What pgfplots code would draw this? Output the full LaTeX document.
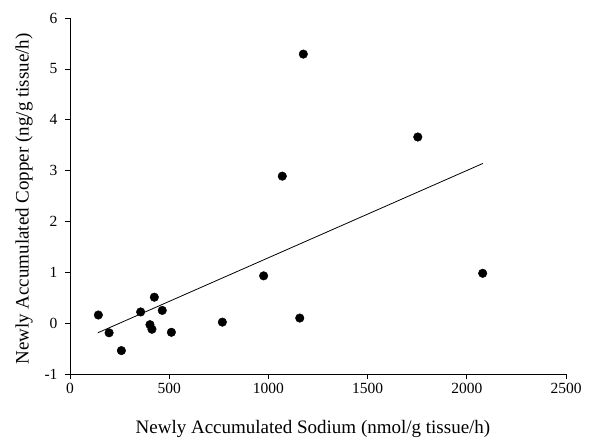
\documentclass[border=0pt]{standalone}
\usepackage{pgfplots}
\pgfplotsset{compat=1.18}
\usepackage{fontspec}
\setmainfont{Liberation Serif}
\begin{document}
\begin{tikzpicture}
\begin{axis}[
  name=ax,
  scale only axis, width=496pt, height=356pt,
  xmin=0, xmax=2500, ymin=-1, ymax=6,
  axis x line*=bottom, axis y line*=left,
  axis line style={line width=0.9pt},
  tick align=outside, major tick length=5pt,
  tick style={black, line width=0.7pt},
  xtick={0,500,1000,1500,2000,2500}, ytick={-1,0,1,2,3,4,5,6},
  ticklabel style={font=\fontsize{15.5}{15.5}\selectfont},
  yticklabel style={xshift=-4pt},
  xticklabel style={yshift=-1pt},
  /pgf/number format/assume math mode=true,
  /pgf/number format/1000 sep={},
  xlabel={Newly Accumulated Sodium (nmol/g tissue/h)},
  ylabel={Newly Accumulated Copper (ng/g tissue/h)},
  label style={font=\fontsize{19}{19}\selectfont},
  xlabel style={at={(axis description cs:0.5,0)}, anchor=center, yshift=-55pt, xshift=-5pt},
  ylabel style={at={(axis description cs:0,0.5)}, anchor=center, yshift=46pt, xshift=-3pt},
]
\addplot[only marks, mark=*, mark size=4.3pt, black] coordinates {
 (143,0.16) (197,-0.19) (259,-0.54) (356,0.22) (425,0.51) (465,0.25)
 (403,-0.03) (413,-0.12) (511,-0.18) (768,0.02) (976,0.93) (1158,0.10)
 (2080,0.98) (1070,2.89) (1176,5.29) (1753,3.66)
};
\addplot[black, line width=0.8pt, no marks] coordinates {(140,-0.19) (2081,3.14)};
\end{axis}
\pgfresetboundingbox
\path ([shift={(-70pt,-66pt)}]ax.south west) rectangle ([shift={(31pt,18pt)}]ax.north east);
\end{tikzpicture}
\end{document}
